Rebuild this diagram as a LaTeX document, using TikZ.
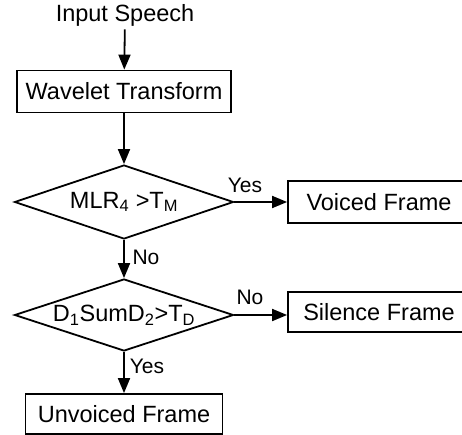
\documentclass[tikz,border=0pt]{standalone}
\usepackage{fontspec}
\setmainfont{Liberation Sans}
\usetikzlibrary{shapes.geometric,arrows.meta,positioning}
\tikzset
{
    procbox/.style  = {rectangle, draw=black, line width=1.8pt, inner sep=0pt, minimum height=42pt, font=\fontsize{23.5}{27}\selectfont},
    decision/.style = {diamond, aspect=3, draw=black, line width=1.8pt, inner sep=0pt, minimum width=219pt, minimum height=74pt, font=\fontsize{23.5}{27}\selectfont},
    branch/.style   = {inner sep=0pt, font=\fontsize{21}{24}\selectfont},
    flow/.style     = {line width=1.8pt, -{Triangle[length=15pt,width=12pt]}}
}

\begin{document}
\begin{tikzpicture}[x=1pt,y=-1pt]
\useasboundingbox (0,0) rectangle (462,435);
\clip (0,0) rectangle (462,435);
\node [font=\fontsize{23.5}{27}\selectfont] at (125,15) (speech) {Input Speech};
\node [procbox, minimum width=214pt] at (124,91.5) (wavelet) {Wavelet Transform};
\node [decision] at (124,202) (mlr) {MLR\textsubscript{4} >T\textsubscript{M}};
\node [procbox, minimum width=182pt] at (379,202) (voiced) {Voiced Frame};
\node [decision, minimum height=72pt] at (124,315) (dsum) {D\textsubscript{1}SumD\textsubscript{2}>T\textsubscript{D}};
\node [procbox, minimum width=182pt, minimum height=40pt] at (379,312) (silence) {Silence Frame};
\node [procbox, minimum width=197pt, minimum height=40pt] at (124,414) (unvoiced) {Unvoiced Frame};
% branch labels
\node [branch] at (245,185) (yes1) {Yes};
\node [branch] at (146,257) (no1) {No};
\node [branch] at (250,297) (no2) {No};
\node [branch] at (147,366) (yes2) {Yes};
\draw [flow] (speech) -- (wavelet);
\draw [flow] (wavelet) -- (mlr);
\draw [flow] (mlr) -- (voiced);
\draw [flow] (mlr) -- (dsum);
\draw [flow] (dsum.east) -- (dsum.east -| silence.west);
\draw [flow] (dsum) -- (unvoiced);
\end{tikzpicture}
\end{document}
